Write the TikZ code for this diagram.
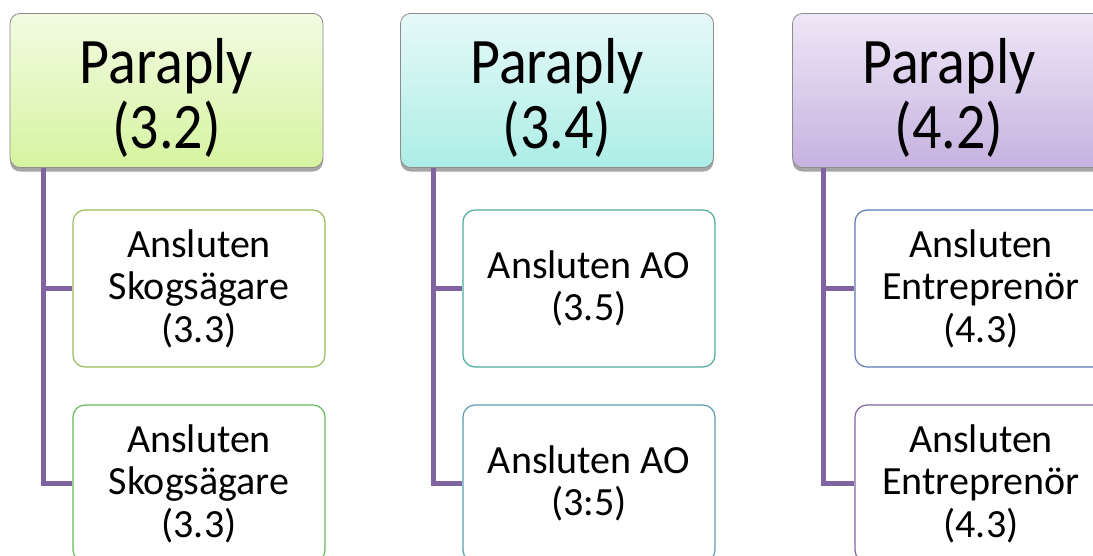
\documentclass[tikz,border=0pt]{standalone}
\usepackage{fontspec}
\setmainfont{Carlito}
\usetikzlibrary{shadows}
\definecolor{conn}{HTML}{8064A2}
\definecolor{gA}{HTML}{F2FBE2}\definecolor{gB}{HTML}{D6F4A0}
\definecolor{cA}{HTML}{E6F9F8}\definecolor{cB}{HTML}{ACEDE6}
\definecolor{pA}{HTML}{EEE7F6}\definecolor{pB}{HTML}{C6B2E0}
\definecolor{b11}{HTML}{9BBB59}\definecolor{b12}{HTML}{66BB5C}
\definecolor{b21}{HTML}{4BAC9C}\definecolor{b22}{HTML}{5A9EB0}
\definecolor{b31}{HTML}{5F79B5}\definecolor{b32}{HTML}{8064A2}
\newcommand{\ptext}[1]{\raisebox{-11.5pt}[\height][\depth]{\scalebox{1}[1.12]{\begin{tabular}{@{}c@{}}#1\end{tabular}}}}
\tikzset{
  parent/.style={draw=black!45, line width=0.8pt, rounded corners=10pt,
    minimum width=313pt, minimum height=154pt, inner sep=0pt,
    align=center, font=\fontsize{58}{50.9}\selectfont,
    drop shadow={shadow xshift=0pt, shadow yshift=-4pt, opacity=0.35, fill=black}},
  child/.style={draw, fill=white, line width=1.2pt, rounded corners=12pt,
    minimum width=252pt, minimum height=157pt, inner sep=0pt,
    align=center, font=\fontsize{40}{42.5}\selectfont},
  link/.style={draw=conn, line width=5pt}
}
\begin{document}
\begin{tikzpicture}[x=1pt,y=-1pt]
\useasboundingbox (0,0) rectangle (1093,555);
\node[parent, top color=gA, bottom color=gB] (p1) at (166.5,90.5) {\ptext{Paraply\\(3.2)}};
\node[parent, top color=cA, bottom color=cB] (p2) at (557,90.5) {\ptext{Paraply\\(3.4)}};
\node[parent, top color=pA, bottom color=pB] (p3) at (949,90.5) {\ptext{Paraply\\(4.2)}};
\node[child, draw=b11] (c11) at (199,288.5) {Ansluten\\Skogsägare\\(3.3)};
\node[child, draw=b12] (c12) at (199,483.5) {Ansluten\\Skogsägare\\(3.3)};
\node[child, draw=b21] (c21) at (589,288.5) {Ansluten AO\\(3.5)};
\node[child, draw=b22] (c22) at (589,483.5) {Ansluten AO\\(3:5)};
\node[child, draw=b31] (c31) at (981,288.5) {Ansluten\\Entreprenör\\(4.3)};
\node[child, draw=b32] (c32) at (981,483.5) {Ansluten\\Entreprenör\\(4.3)};
\coordinate (v1) at (43,168);
\coordinate (v2) at (433,168);
\coordinate (v3) at (823,168);
\draw[link] (v1) |- (c12.west);
\draw[link] (v1 |- c11.west) -- (c11.west);
\draw[link] (v2) |- (c22.west);
\draw[link] (v2 |- c21.west) -- (c21.west);
\draw[link] (v3) |- (c32.west);
\draw[link] (v3 |- c31.west) -- (c31.west);
\end{tikzpicture}
\end{document}
